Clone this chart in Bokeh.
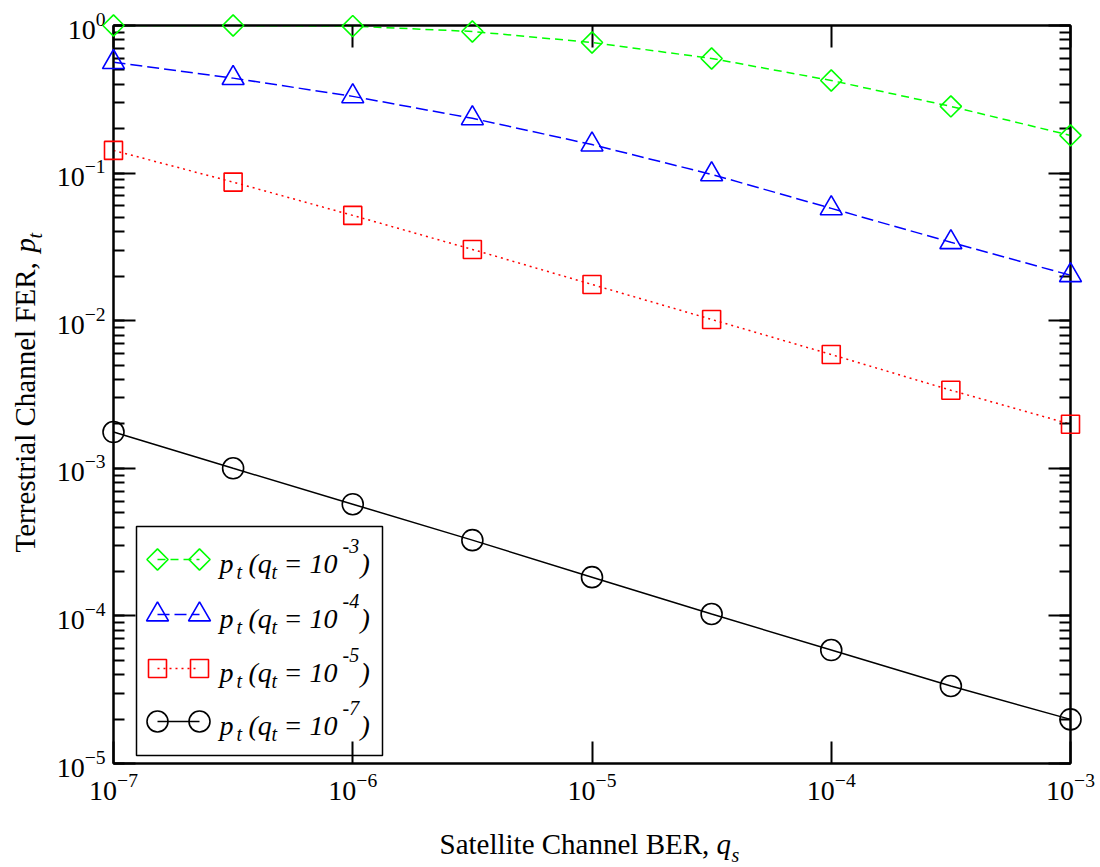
import math

from bokeh.core.properties import value
from bokeh.embed import file_html
from bokeh.models import CustomJSTickFormatter, LogAxis, LogTicker, Range1d
from bokeh.plotting import figure
from bokeh.resources import INLINE

# Satellite channel bit error rate (x axis)
qs = [1e-7, 3.162e-7, 1e-6, 3.162e-6, 1e-5, 3.162e-5, 1e-4, 3.162e-4, 1e-3]

# Terrestrial channel frame error rate for several terrestrial BERs
pt_qt3 = [1.0, 1.0, 0.99, 0.911, 0.767, 0.598, 0.424, 0.283, 0.180]
pt_qt4 = [0.564, 0.44, 0.331, 0.235, 0.156, 0.098, 0.0577, 0.034, 0.0203]
pt_qt5 = [0.1425, 0.0869, 0.0517, 0.0304, 0.0176, 0.0102, 0.0059, 0.00338, 0.00199]
pt_qt7 = [0.00176, 0.001, 0.000571, 0.000326, 0.000183, 0.000103, 5.87e-5, 3.35e-5, 1.99e-5]

legend_exps = ["-3", "-4", "-5", "-7"]

X_LO, X_HI = 1e-7, 1e-3
Y_LO, Y_HI = 1e-5, 1.0

W, H = 1100, 867
LEFT, RIGHT, TOP, BOTTOM = 113, 1070, 25, 763
FONT = "Liberation Serif"
BASE_SHIFT = 10  # baseline correction for text glyphs, px at 28px


def dx(px):
    """Canvas pixel column -> x data value."""
    a, b = math.log10(X_LO), math.log10(X_HI)
    return 10 ** (a + (px - LEFT) / (RIGHT - LEFT) * (b - a))


def dy(py):
    """Canvas pixel row -> y data value."""
    a, b = math.log10(Y_LO), math.log10(Y_HI)
    return 10 ** (b - (py - TOP) / (BOTTOM - TOP) * (b - a))


p = figure(width=W, height=H, x_axis_type="log", y_axis_type="log",
           x_range=Range1d(X_LO, X_HI), y_range=Range1d(Y_LO, Y_HI),
           output_backend="svg", toolbar_location=None,
           min_border_left=LEFT, min_border_right=W - RIGHT,
           min_border_top=TOP, min_border_bottom=H - BOTTOM)
p.grid.visible = False
p.outline_line_color = "black"
p.outline_line_width = 2
p.background_fill_color = "white"
p.border_fill_color = "white"

bottom_axis = p.below[0]
left_axis = p.left[0]

y_ticker = LogTicker(num_minor_ticks=10)
x_ticker = LogTicker()
bottom_axis.ticker = x_ticker
left_axis.ticker = y_ticker

top_axis = LogAxis(ticker=x_ticker)
right_axis = LogAxis(ticker=y_ticker)
p.add_layout(top_axis, "above")
p.add_layout(right_axis, "right")

for ax in [bottom_axis, left_axis, top_axis, right_axis]:
    ax.axis_line_color = "black"
    ax.axis_line_width = 2
    ax.major_tick_line_color = "black"
    ax.major_tick_line_width = 2
    ax.minor_tick_line_color = "black"
    ax.minor_tick_line_width = 2
    ax.major_tick_in = 22
    ax.major_tick_out = 0
    ax.minor_tick_in = 11
    ax.minor_tick_out = 0
    ax.major_label_text_font = FONT
    ax.major_label_text_font_size = "28px"
    ax.major_label_text_color = "black"
    ax.axis_label = None

for ax in [bottom_axis, top_axis]:
    ax.minor_tick_line_color = None

bottom_axis.major_label_standoff = 10
left_axis.major_label_standoff = 8

for ax in [top_axis, right_axis]:
    ax.formatter = CustomJSTickFormatter(code="return ''")
    ax.major_label_text_font_size = "1px"
    ax.major_label_standoff = 0

series = [
    (pt_qt3, "#00ff00", "8 5", "square", math.pi / 4, 15),
    (pt_qt4, "#0000ff", "12 5", "triangle", 0, 22),
    (pt_qt5, "#ff0000", "2 4", "square", 0, 18),
    (pt_qt7, "#000000", "solid", "circle", 0, 21),
]

for ys, color, dash, marker, ang, size in series:
    p.line(qs, ys, line_color=color, line_width=1.5, line_dash=dash)
for ys, color, dash, marker, ang, size in series:
    p.scatter(qs, ys, marker=marker, angle=ang, size=size, fill_color=None,
              line_color=color, line_width=1.6, level="overlay")


def put_text(txt, px, py, size, italic=False, angle=0.0, level="overlay"):
    """Place a text run with its left end / alphabetic baseline at canvas pixel (px, py)."""
    fs = float(size.replace("px", ""))
    shift = BASE_SHIFT * fs / 28.0
    if angle:
        px -= shift
    else:
        py -= shift
    p.text(x=[dx(px)], y=[dy(py)], text=[txt], text_font=value(FONT),
           text_font_size=value(size),
           text_font_style=value("italic" if italic else "normal"),
           text_color="black", text_align="left", text_baseline="alphabetic",
           angle=angle, level=level)


# Legend box
p.quad(left=[dx(136)], right=[dx(382)], top=[dy(526)], bottom=[dy(755)],
       fill_color="white", line_color="black", line_width=1.5, level="guide")

row_y = [559, 614, 668, 721]
for (ys, color, dash, marker, ang, size), ry, ex in zip(series, row_y, legend_exps):
    sx = [dx(157), dx(199)]
    sy = [dy(ry), dy(ry)]
    p.line(sx, sy, line_color=color, line_width=1.5, line_dash=dash, level="annotation")
    p.scatter(sx, sy, marker=marker, angle=ang, size=size, fill_color=None,
              line_color=color, line_width=1.6, level="annotation")
    base = ry + 14
    put_text("p", 219, base, "28px", italic=True, level="annotation")
    put_text("t", 236, base + 6, "20px", italic=True, level="annotation")
    put_text("(q", 248, base, "28px", italic=True, level="annotation")
    put_text("t", 271, base + 6, "20px", italic=True, level="annotation")
    put_text("= 10", 283, base, "28px", italic=True, level="annotation")
    put_text(ex, 342, base - 20, "20px", italic=True, level="annotation")
    put_text(")", 360, base, "28px", italic=True, level="annotation")

# Axis titles
put_text("Satellite Channel BER, ", 439, 854, "29px")
put_text("q", 716, 854, "29px", italic=True)
put_text("s", 731, 862, "20px", italic=True)

put_text("Terrestrial Channel FER, ", 35, 552, "29px", angle=math.pi / 2)
put_text("p", 35, 252, "29px", italic=True, angle=math.pi / 2)
put_text("t", 42, 238, "20px", italic=True, angle=math.pi / 2)

open("out.html", "w").write(file_html(p, INLINE))
